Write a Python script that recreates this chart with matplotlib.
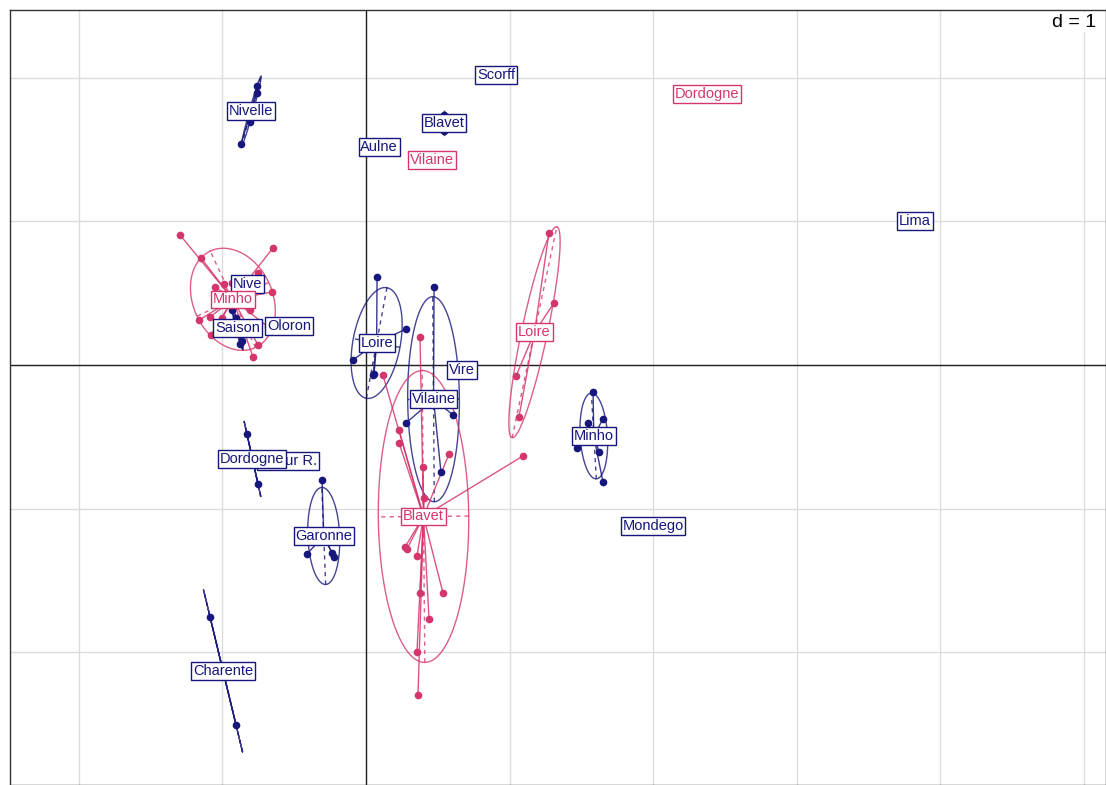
import numpy as np
import matplotlib.pyplot as plt

plt.rcParams['font.family'] = ['Liberation Sans', 'DejaVu Sans']

# first overlay (navy): class names and point coordinates per class
navy_names = ["Nivelle", "Nive", "Saison", "Oloron", "Loire", "Vire", "Vilaine",
              "Minho", "Garonne", "Adour R.", "Dordogne", "Charente", "Aulne",
              "Scorff", "Blavet", "Lima", "Mondego"]
navy_x = [[-0.759, -0.759, -0.808, -0.871],
          [-0.850, -0.794],
          [-0.877, -0.864, -0.905, -0.933],
          [-0.599, -0.474],
          [0.077, 0.279, -0.091, 0.056, 0.049],
          [0.669],
          [0.474, 0.279, 0.606, 0.522],
          [1.581, 1.546, 1.650, 1.469, 1.623, 1.650],
          [-0.306, -0.411, -0.237, -0.223],
          [-0.543],
          [-0.829, -0.752],
          [-1.086, -0.905],
          [0.091],
          [0.905],
          [0.543, 0.543],
          [3.823],
          [1.999]]
navy_y = [[1.943, 1.894, 1.692, 1.539],
          [0.578, 0.550],
          [0.146, 0.167, 0.327, 0.383],
          [0.237, 0.306],
          [0.613, 0.251, 0.035, -0.063, -0.070],
          [-0.035],
          [0.543, -0.404, -0.348, -0.745],
          [-0.188, -0.404, -0.376, -0.578, -0.606, -0.815],
          [-0.801, -1.316, -1.309, -1.337],
          [-0.669],
          [-0.481, -0.829],
          [-1.755, -2.507],
          [1.518],
          [2.019],
          [1.741, 1.630],
          [1.003],
          [-1.121]]

# second overlay (pink)
pink_names = ["Dordogne", "Vilaine", "Loire", "Minho", "Blavet"]
pink_x = [[2.375],
          [0.460],
          [1.274, 1.309, 1.045, 1.065],
          [-1.295, -1.149, -0.648, -0.752, -0.989, -0.933, -0.655, -1.163,
           -1.086, -1.079, -0.808, -0.682, -0.752, -0.787, -1.052, -1.003],
          [0.376, 0.118, 0.230, 0.230, 0.397, 0.578, 1.093, 0.404,
           0.272, 0.286, 0.355, 0.536, 0.376, 0.439, 0.355, 0.362]]
pink_y = [[1.887],
          [1.428],
          [0.919, 0.432, -0.077, -0.362],
          [0.905, 0.745, 0.815, 0.641, 0.564, 0.571, 0.508, 0.313,
           0.334, 0.209, 0.383, 0.265, 0.139, 0.056, 0.543, 0.327],
          [0.195, -0.070, -0.453, -0.543, -0.710, -0.620, -0.634, -0.926,
           -1.267, -1.281, -1.330, -1.588, -1.588, -1.769, -1.999, -2.298]]

NAVY = "#16167c"
PINK = "#d4366c"


def draw_classes(ax, names, xs, ys, col):
    for name, gx, gy in zip(names, xs, ys):
        gx = np.array(gx)
        gy = np.array(gy)
        cx, cy = gx.mean(), gy.mean()
        if len(gx) > 1:
            cov = np.cov(np.vstack([gx, gy]), bias=True)
            vals, vecs = np.linalg.eigh(cov)
            vals = np.clip(vals, 0, None)
            a = 1.5 * np.sqrt(vals[1])
            b = 1.5 * np.sqrt(vals[0])
            v1 = vecs[:, 1]
            v2 = vecs[:, 0]
            t = np.linspace(0, 2 * np.pi, 200)
            ex = cx + a * np.cos(t) * v1[0] + b * np.sin(t) * v2[0]
            ey = cy + a * np.cos(t) * v1[1] + b * np.sin(t) * v2[1]
            ax.plot(ex, ey, color=col, lw=1, alpha=0.8, zorder=3)
            ax.plot([cx - a * v1[0], cx + a * v1[0]], [cy - a * v1[1], cy + a * v1[1]],
                    color=col, lw=1, ls=(0, (3, 3)), alpha=0.8, zorder=3)
            if b > 1e-6:
                ax.plot([cx - b * v2[0], cx + b * v2[0]], [cy - b * v2[1], cy + b * v2[1]],
                        color=col, lw=1, ls=(0, (3, 3)), alpha=0.8, zorder=3)
            for px, py in zip(gx, gy):
                ax.plot([cx, px], [cy, py], color=col, lw=1, alpha=0.85, zorder=3)
        ax.plot(gx, gy, "o", color=col, markersize=4.5, zorder=4)
        ax.text(cx, cy, name, fontsize=10.5, color=col, ha="center", va="center", zorder=5,
                bbox=dict(boxstyle="square,pad=0.12", facecolor="white", edgecolor=col, lw=1))


fig = plt.figure(figsize=(11.06, 7.85), dpi=100)
ax = fig.add_axes([10 / 1106, 0, 1 - 10 / 1106, 775 / 785])
ax.set_xlim(-2.479, 5.153)
ax.set_ylim(-2.925, 2.472)

for gx in range(-2, 6):
    ax.axvline(gx, color="#dcdcdc", lw=1, zorder=1)
for gy in range(-2, 3):
    ax.axhline(gy, color="#dcdcdc", lw=1, zorder=1)
ax.axvline(0, color="#222222", lw=1, zorder=2)
ax.axhline(0, color="#222222", lw=1, zorder=2)

draw_classes(ax, navy_names, navy_x, navy_y, NAVY)
draw_classes(ax, pink_names, pink_x, pink_y, PINK)

ax.text(0.991, 0.9845, "d = 1", transform=ax.transAxes, fontsize=14,
        ha="right", va="center", zorder=6,
        bbox=dict(boxstyle="square,pad=0.1", facecolor="white", edgecolor="none"))

ax.set_xticks([])
ax.set_yticks([])
for s in ax.spines.values():
    s.set_color("#333333")
    s.set_linewidth(1)

fig.savefig("out.png", dpi=100)
